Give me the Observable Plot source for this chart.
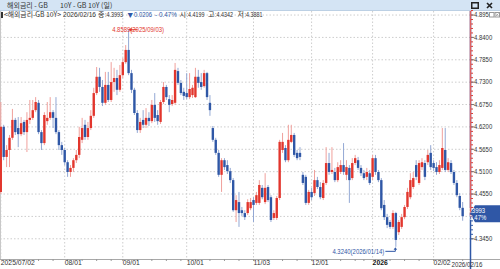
<!DOCTYPE html>
<html><head><meta charset="utf-8">
<script src="https://cdn.jsdelivr.net/npm/d3@7"></script>
<script src="https://cdn.jsdelivr.net/npm/@observablehq/plot@0.6"></script>
<style>
html,body{margin:0;padding:0;background:#fff;}
body{width:500px;height:269px;overflow:hidden;position:relative;color:#333;}
#bar{position:absolute;left:0;top:0;width:500px;height:11px;background:#d4e4f4;border-bottom:1px solid #bcd0e4;box-sizing:border-box;}
#chart{position:absolute;left:0;top:11px;}
#hdr{position:absolute;left:0;top:0;}
</style></head>
<body>
<div id="bar"></div>
<div id="chart"></div>
<svg id="hdr" width="500" height="22"></svg>
<script>
// ---- data ----
const seriesTitle = "해외금리 - GB";
const seriesName = "10Y - GB 10Y (일)";
const seriesCode = "해외금리-GB 10Y";
const startDate = "2025-07-02", endDate = "2026-02-16";
const holidays = ["2025-08-25","2025-12-25","2025-12-26","2026-01-01"];
const yTicks = [4.895,4.84,4.785,4.73,4.675,4.62,4.565,4.51,4.455,4.40,4.345];
const open = [
4.459,4.619,4.545,4.562,4.592,4.636,4.616,4.601,4.631,4.606,
4.636,4.641,4.660,4.678,4.606,4.579,4.633,4.641,4.655,4.641,
4.606,4.574,4.562,4.532,4.508,4.518,4.537,4.550,4.587,4.624,
4.594,4.616,4.646,4.702,4.742,4.717,4.678,4.722,4.685,4.729,
4.739,4.710,4.746,4.778,4.808,4.751,4.710,4.653,4.611,4.636,
4.624,4.641,4.633,4.673,4.648,4.631,4.680,4.717,4.687,4.675,
4.678,4.756,4.727,4.705,4.702,4.692,4.697,4.692,4.742,4.729,
4.719,4.751,4.678,4.616,4.587,4.555,4.501,4.537,4.525,4.510,
4.488,4.414,4.434,4.414,4.407,4.407,4.419,4.439,4.432,4.432,
4.469,4.434,4.471,4.446,4.395,4.395,4.444,4.562,4.567,4.537,
4.582,4.599,4.555,4.555,4.501,4.496,4.432,4.459,4.456,4.488,
4.471,4.444,4.481,4.530,4.508,4.508,4.488,4.508,4.525,4.501,
4.518,4.493,4.530,4.537,4.518,4.505,4.496,4.505,4.496,4.542,
4.508,4.488,4.427,4.397,4.385,4.373,4.407,4.360,4.373,4.397,
4.422,4.446,4.471,4.525,4.481,4.520,4.530,4.532,4.555,4.530,
4.520,4.508,4.518,4.562,4.513,4.530,4.508,4.481,4.449,4.4199];
const high = [
4.680,4.624,4.574,4.599,4.663,4.641,4.643,4.643,4.636,4.655,
4.685,4.685,4.692,4.685,4.611,4.655,4.680,4.692,4.660,4.692,
4.611,4.582,4.567,4.537,4.525,4.542,4.562,4.619,4.641,4.636,
4.631,4.660,4.715,4.766,4.764,4.734,4.754,4.754,4.778,4.764,
4.759,4.771,4.788,4.820,4.8589,4.759,4.715,4.660,4.641,4.660,
4.665,4.655,4.685,4.702,4.660,4.685,4.729,4.722,4.697,4.697,
4.776,4.764,4.734,4.715,4.751,4.751,4.722,4.764,4.759,4.751,
4.759,4.754,4.697,4.621,4.592,4.562,4.542,4.542,4.537,4.518,
4.493,4.451,4.459,4.422,4.414,4.441,4.444,4.446,4.459,4.488,
4.476,4.505,4.476,4.451,4.414,4.449,4.587,4.604,4.574,4.624,
4.624,4.604,4.562,4.569,4.508,4.501,4.464,4.469,4.513,4.496,
4.483,4.488,4.569,4.555,4.569,4.518,4.532,4.537,4.579,4.537,
4.525,4.542,4.550,4.545,4.525,4.513,4.518,4.513,4.550,4.550,
4.513,4.493,4.439,4.405,4.390,4.414,4.410,4.390,4.405,4.427,
4.469,4.505,4.508,4.537,4.537,4.542,4.537,4.562,4.574,4.537,
4.532,4.537,4.616,4.616,4.542,4.537,4.513,4.488,4.456,4.4342];
const low = [
4.454,4.537,4.520,4.520,4.587,4.599,4.569,4.596,4.599,4.557,
4.626,4.636,4.655,4.601,4.562,4.574,4.624,4.636,4.616,4.601,
4.562,4.550,4.525,4.496,4.496,4.508,4.530,4.542,4.579,4.587,
4.587,4.611,4.641,4.697,4.705,4.670,4.673,4.680,4.680,4.705,
4.697,4.705,4.739,4.774,4.746,4.702,4.648,4.604,4.604,4.616,
4.616,4.621,4.628,4.631,4.624,4.626,4.675,4.685,4.655,4.670,
4.673,4.722,4.697,4.685,4.687,4.687,4.690,4.690,4.715,4.710,
4.715,4.685,4.646,4.582,4.550,4.496,4.459,4.513,4.503,4.481,
4.410,4.385,4.373,4.400,4.390,4.402,4.414,4.385,4.427,4.427,
4.441,4.429,4.434,4.385,4.390,4.390,4.439,4.555,4.532,4.532,
4.579,4.545,4.537,4.537,4.476,4.427,4.427,4.439,4.449,4.466,
4.441,4.439,4.476,4.501,4.503,4.483,4.483,4.503,4.501,4.488,
4.432,4.488,4.525,4.513,4.498,4.488,4.488,4.476,4.488,4.501,
4.483,4.414,4.390,4.370,4.368,4.368,4.324,4.353,4.368,4.392,
4.417,4.441,4.466,4.488,4.476,4.513,4.488,4.525,4.513,4.510,
4.501,4.503,4.513,4.508,4.508,4.503,4.476,4.446,4.414,4.3881];
const close = [
4.619,4.545,4.562,4.592,4.636,4.606,4.601,4.628,4.606,4.636,
4.641,4.660,4.680,4.606,4.579,4.648,4.641,4.655,4.641,4.606,
4.574,4.562,4.532,4.508,4.518,4.537,4.550,4.594,4.616,4.594,
4.616,4.646,4.702,4.742,4.717,4.678,4.722,4.685,4.729,4.739,
4.710,4.746,4.778,4.808,4.751,4.710,4.653,4.611,4.631,4.624,
4.641,4.633,4.673,4.641,4.633,4.680,4.717,4.692,4.673,4.685,
4.759,4.727,4.702,4.695,4.692,4.712,4.715,4.742,4.727,4.717,
4.751,4.692,4.660,4.587,4.555,4.501,4.537,4.520,4.510,4.488,
4.414,4.439,4.407,4.407,4.397,4.434,4.434,4.427,4.451,4.476,
4.446,4.469,4.439,4.390,4.407,4.444,4.582,4.582,4.537,4.587,
4.599,4.550,4.542,4.545,4.481,4.432,4.459,4.446,4.488,4.471,
4.446,4.481,4.530,4.508,4.513,4.488,4.520,4.525,4.508,4.520,
4.488,4.530,4.542,4.518,4.505,4.493,4.508,4.481,4.542,4.508,
4.488,4.419,4.397,4.378,4.373,4.407,4.341,4.385,4.397,4.422,
4.459,4.488,4.493,4.496,4.530,4.532,4.496,4.550,4.520,4.518,
4.508,4.525,4.567,4.513,4.532,4.508,4.481,4.451,4.4199,4.3993];

// ---- styles ----
const UP = "#e2362d", DOWN = "#2f57a6", UPW = "#f0a09c", DOWNW = "#93a8d4";
const GRID = "#cdcdcd", TXT = "#333";
const NUM = '"Liberation Sans",Arial,sans-serif';
const KR = '"Noto Sans CJK KR",sans-serif';
const SQUEEZE = 0.85;

// trading calendar
const dates = [];
for (let d = new Date(startDate + "T00:00:00Z"); d <= new Date(endDate + "T00:00:00Z"); d.setUTCDate(d.getUTCDate() + 1)) {
  const wd = d.getUTCDay(), s = d.toISOString().slice(0, 10);
  if (wd === 0 || wd === 6 || holidays.includes(s)) continue;
  dates.push(s);
}
const n = close.length;
const idx = d3.range(n);
const monthStarts = idx.filter(i => i === 0 || dates[i].slice(5, 7) !== dates[i - 1].slice(5, 7));
const weekStarts = idx.filter(i => i > 0 && new Date(dates[i]).getUTCDay() <= new Date(dates[i - 1]).getUTCDay());
const label = i => i === 0 ? dates[i].replace(/-/g, "/") : (dates[i].slice(0, 4) !== dates[i - 1].slice(0, 4) ? dates[i].slice(0, 4) : dates[i].slice(5).replace("-", "/"));
const yearStarts = monthStarts.filter(i => i > 0 && dates[i].slice(0, 4) !== dates[i - 1].slice(0, 4));
const plainStarts = monthStarts.filter(i => !yearStarts.includes(i));
const last = n - 1;
const chg = close[last] - close[last - 1];
const pct = chg / close[last - 1] * 100;
const pctText = (pct < 0 ? "- " : "+ ") + Math.abs(pct).toFixed(2) + "%";
const hiIdx = d3.maxIndex(high), loIdx = d3.minIndex(low);
const fmtD = s => s.replace(/-/g, "/");
const f4 = d3.format(".4f");
const xDomain = [-0.1, 161.7], yDomain = [4.2941, 4.9037];
const labelTicks = yTicks.filter(v => Math.abs(v - close[last]) > 0.02);
const minorTicks = d3.range(0, 52).map(k => +(4.345 + k * 0.011).toFixed(4));

// ---- header (SVG text, one element per piece) ----
const hdr = d3.select("#hdr");
function htext(x, y, s, o) {
  const t = hdr.append("text").attr("x", x).attr("y", y).attr("dy", "0.35em")
    .attr("font-family", o.family || NUM).attr("font-size", o.size || 7).attr("fill", o.color || TXT).text(s);
  if (o.len) t.attr("textLength", o.len).attr("lengthAdjust", "spacingAndGlyphs");
  return t;
}
htext(7, 5.5, seriesTitle, {family: KR, size: 7});
htext(60, 5.5, seriesName, {family: KR, size: 7});
hdr.append("rect").attr("x", 471.75).attr("y", 2.75).attr("width", 6.5).attr("height", 5.5).attr("fill", "none").attr("stroke", "#222").attr("stroke-width", 1.5);
hdr.append("path").attr("d", "M487,3L492,8M492,3L487,8").attr("stroke", "#222").attr("stroke-width", 1.6);
hdr.append("rect").attr("x", 1).attr("y", 12).attr("width", 2).attr("height", 6).attr("fill", "#333");
const L2 = 15;
htext(4, L2, "<" + seriesCode + ">", {family: KR, size: 7, len: 57});
htext(63, L2, fmtD(dates[last]), {size: 6.5, len: 33});
[[98, "종", close[last]], [179.5, "시", open[last]], [208, "고", high[last]], [237.5, "저", low[last]]].forEach(([x, k, v]) => {
  htext(x, L2, k, {family: KR, size: 7, len: 6.5});
  htext(x + 7, L2, ":" + f4(v), {size: 6.5, len: 18});
});
htext(127.5, L2, chg < 0 ? "▼" : "▲", {family: KR, size: 6, color: DOWN, len: 5.5});
htext(134, L2, f4(Math.abs(chg)), {size: 6.5, color: DOWN, len: 18});
htext(155, L2, pctText, {size: 6.5, color: DOWN, len: 22});
hdr.append("rect").attr("x", 489.5).attr("y", 12.5).attr("width", 4.5).attr("height", 4.5).attr("fill", "#fff").attr("stroke", "#999");
hdr.append("rect").attr("x", 495).attr("y", 12.5).attr("width", 4.5).attr("height", 4.5).attr("fill", "#fff").attr("stroke", "#999");
hdr.append("path").attr("d", "M496,13.5L498.5,16M498.5,13.5L496,16").attr("stroke", "#999").attr("stroke-width", 0.8);

// ---- custom marks drawn through the plot's scales ----
function priceTag(index, scales, values, dim) {
  const x = dim.width - dim.marginRight, y = scales.y(close[last]) - 2.5;
  const g = d3.create("svg:g").attr("font-family", NUM);
  g.append("path").attr("d", `M${x},${y} L${x + 5},${y - 8.5} L${dim.width},${y - 8.5} L${dim.width},${y + 8.5} L${x + 5},${y + 8.5} Z`).attr("fill", DOWN);
  g.append("text").attr("x", x + 6).attr("y", y - 3.5).attr("fill", "#fff").attr("font-size", 7).attr("dy", "0.35em").text(f4(close[last]));
  g.append("text").attr("x", x + 6).attr("y", y + 4).attr("fill", "#fff").attr("font-size", 7).attr("dy", "0.35em").text(pctText);
  return g.node();
}
function hiNote(index, scales) {
  const x = scales.x(hiIdx), y = scales.y(high[hiIdx]) + 0.5;
  const g = d3.create("svg:g").attr("font-family", NUM);
  g.append("line").attr("x1", x + 2).attr("x2", x + 9.5).attr("y1", y).attr("y2", y).attr("stroke", UP);
  g.append("path").attr("d", `M${x + 0.5},${y} L${x + 3.5},${y - 2} L${x + 3.5},${y + 2} Z`).attr("fill", UP);
  g.append("text").attr("x", x + 10).attr("y", y).attr("fill", UP).attr("font-size", 7).attr("dy", "0.35em")
    .text(f4(high[hiIdx]) + "(" + fmtD(dates[hiIdx]) + ")");
  return g.node();
}
function loNote(index, scales) {
  const x = scales.x(loIdx), y = scales.y(low[loIdx]);
  const g = d3.create("svg:g").attr("font-family", NUM);
  g.append("path").attr("d", `M${x - 10},${y + 4.5} L${x},${y + 4.5} L${x},${y + 2}`).attr("fill", "none").attr("stroke", DOWN);
  g.append("path").attr("d", `M${x},${y + 0.5} L${x - 1.8},${y + 3} L${x + 1.8},${y + 3} Z`).attr("fill", DOWN);
  g.append("text").attr("x", x - 11).attr("y", y + 4.5).attr("fill", DOWN).attr("font-size", 7).attr("text-anchor", "end").attr("dy", "0.35em")
    .text(f4(low[loIdx]) + "(" + fmtD(dates[loIdx]) + ")");
  return g.node();
}

const col = i => close[i] >= open[i] ? UP : DOWN;
const wcol = i => close[i] >= open[i] ? UPW : DOWNW;

const plot = Plot.plot({
  width: 500, height: 258,
  marginLeft: 0, marginRight: 30, marginTop: 0, marginBottom: 10,
  x: {type: "linear", domain: xDomain},
  y: {domain: yDomain},
  color: {type: "identity"},
  style: {fontFamily: NUM, fontSize: "8px", color: TXT, background: "transparent", overflow: "visible"},
  marks: [
    Plot.ruleY(yTicks, {stroke: GRID, strokeDasharray: "1.5,2"}),
    Plot.ruleX(monthStarts, {stroke: GRID, strokeDasharray: "1.5,2"}),
    Plot.ruleX([xDomain[0]], {stroke: "#c8c8c8"}),
    Plot.ruleX(idx, {x: i => i, y1: i => low[i], y2: i => high[i], stroke: wcol, strokeWidth: 1}),
    Plot.ruleX(idx, {x: i => i, y1: i => open[i], y2: i => close[i], stroke: col, strokeWidth: 2.4}),
    Plot.ruleY([yDomain[0]], {stroke: "#a8a8a8", insetRight: -30}),
    Plot.axisX(weekStarts, {anchor: "bottom", tickSize: 2, tickFormat: () => "", stroke: "#999"}),
    Plot.text(plainStarts, {x: i => i, text: label, frameAnchor: "bottom", dy: 5.5, textAnchor: "start", fill: TXT, fontSize: 8}),
    Plot.text(yearStarts, {x: i => i, text: label, frameAnchor: "bottom", dy: 5.5, textAnchor: "start", fill: "#111", fontSize: 8, fontWeight: "bold"}),
    Plot.axisY(minorTicks.filter(v => v > close[last]), {anchor: "right", tickSize: 2, tickFormat: () => "", stroke: UP}),
    Plot.axisY(minorTicks.filter(v => v <= close[last]), {anchor: "right", tickSize: 2, tickFormat: () => "", stroke: DOWN}),
    Plot.axisY(labelTicks, {anchor: "right", tickSize: 3, tickPadding: 0.5, tickFormat: f4, fill: TXT, fontSize: 7, stroke: "#777"}),
    Plot.ruleX([xDomain[1]], {stroke: DOWN, strokeWidth: 1.5, insetBottom: -10}),
    Plot.ruleX([xDomain[1]], {y1: close[last], y2: yDomain[1], stroke: "#e06060", strokeWidth: 1.5}),
    hiNote, loNote, priceTag
  ]
});
document.getElementById("chart").appendChild(plot);
// narrow the numeric labels to match the condensed look of the original
plot.querySelectorAll("text").forEach(t => {
  const L = t.getComputedTextLength();
  if (L > 0) { t.setAttribute("textLength", (L * SQUEEZE).toFixed(2)); t.setAttribute("lengthAdjust", "spacingAndGlyphs"); }
});
// last-date label under the right edge line, sized to stay inside the picture
d3.select(plot).append("text")
  .attr("x", 467).attr("y", 253.5).attr("dy", "0.35em")
  .attr("font-family", NUM).attr("font-size", 6.4).attr("fill", TXT)
  .attr("textLength", 31).attr("lengthAdjust", "spacingAndGlyphs")
  .text(fmtD(dates[last]));
</script>
</body></html>
